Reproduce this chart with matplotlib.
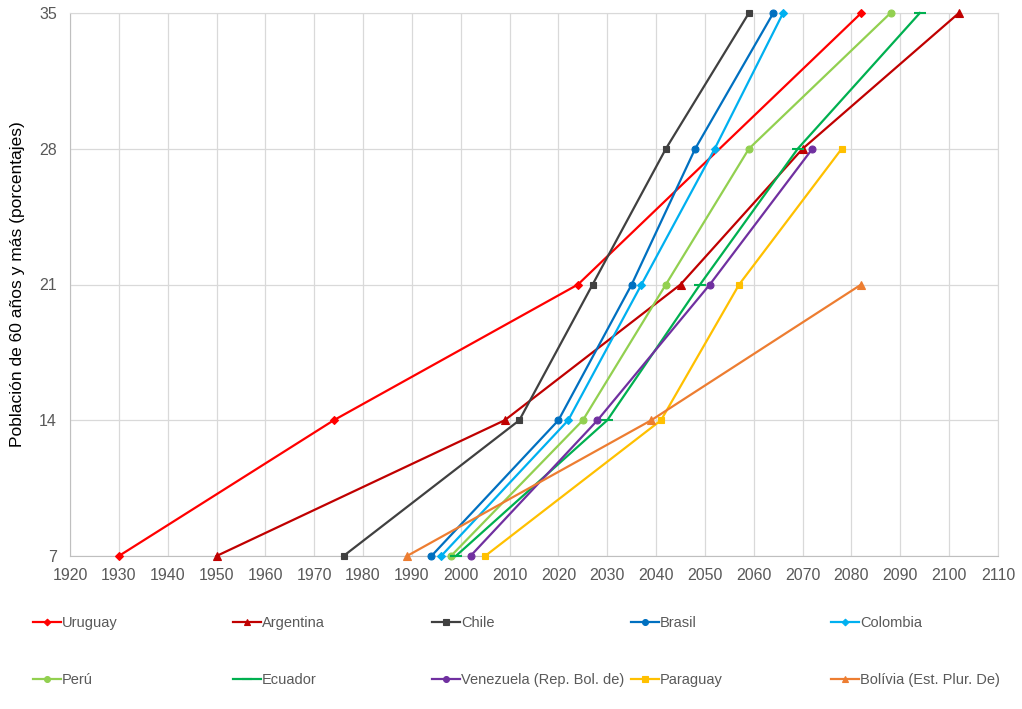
import numpy as np
import matplotlib.pyplot as plt

plt.rcParams['font.family'] = ['Liberation Sans', 'DejaVu Sans']

# Umbrales de población de 60 años y más (%)
umbrales = [7, 14, 21, 28, 35]

# Año en que cada país alcanza cada umbral (None = no se alcanza / sin dato)
paises = ["Uruguay", "Argentina", "Chile", "Brasil", "Colombia",
          "Perú", "Ecuador", "Venezuela (Rep. Bol. de)", "Paraguay",
          "Bolívia (Est. Plur. De)"]
uruguay = [1930, 1974, 2024, None, 2082]
argentina = [1950, 2009, 2045, 2070, 2102]
chile = [1976, 2012, 2027, 2042, 2059]
brasil = [1994, 2020, 2035, 2048, 2064]
colombia = [1996, 2022, 2037, 2052, 2066]
peru = [1998, 2025, 2042, 2059, 2088]
ecuador = [1999, 2030, 2049, 2069, 2094]
venezuela = [2002, 2028, 2051, 2072, None]
paraguay = [2005, 2041, 2057, 2078, None]
bolivia = [1989, 2039, 2082, None, None]

series = [uruguay, argentina, chile, brasil, colombia,
          peru, ecuador, venezuela, paraguay, bolivia]
colores = ["#FF0000", "#C00000", "#404040", "#0070C0", "#00B0F0",
           "#92D050", "#00B050", "#7030A0", "#FFC000", "#ED7D31"]
marcadores = ["D", "^", "s", "o", "D", "o", "_", "o", "s", "^"]
tamanos = [4, 5.5, 5, 5, 4, 5, 8, 5, 5, 5.5]

fig = plt.figure(figsize=(10.22, 7.09), dpi=100)
ax = fig.add_axes([70 / 1022, 1 - 556 / 709, 928 / 1022, 543 / 709])

handles = []
for nombre, anios, c, m, ms in zip(paises, series, colores, marcadores, tamanos):
    xs = [a for a in anios if a is not None]
    ys = [u for a, u in zip(anios, umbrales) if a is not None]
    h, = ax.plot(xs, ys, color=c, lw=1.6, marker=m, markersize=ms,
                 markeredgewidth=1.5 if m == "_" else 0.8,
                 markeredgecolor=c, markerfacecolor=c, clip_on=False,
                 label=nombre, zorder=3)
    handles.append(h)

ax.set_xlim(1920, 2110)
ax.set_ylim(7, 35)
ax.set_xticks(np.arange(1920, 2111, 10))
ax.set_yticks(umbrales)
ax.grid(True, color="#D9D9D9", lw=0.9)
ax.set_axisbelow(True)
for s in ax.spines.values():
    s.set_color("#D9D9D9")
ax.spines["bottom"].set_color("#BFBFBF")
ax.spines["left"].set_color("#BFBFBF")
ax.tick_params(length=0, labelsize=11.5, labelcolor="#595959")
ax.tick_params(axis="x", pad=8.5)
ax.tick_params(axis="y", pad=9.5)
ax.set_ylabel("Población de 60 años y más (porcentajes)", fontsize=12.5,
              color="black", labelpad=10)

# Leyenda en 5 columnas de ancho fijo
col_x = [33, 233, 432, 631, 831]
for i, x0 in enumerate(col_x):
    hs = [handles[i], handles[i + 5]]
    leg = fig.legend(hs, [h.get_label() for h in hs], loc="upper left",
                     bbox_to_anchor=(x0 / 1022, 1 - 616 / 709),
                     frameon=False, fontsize=10.5, handlelength=1.9,
                     handletextpad=0.1, borderpad=0, borderaxespad=0,
                     labelspacing=2.95, markerscale=0.85)
    for t in leg.get_texts():
        t.set_color("#595959")

fig.savefig("out.png", dpi=100)
